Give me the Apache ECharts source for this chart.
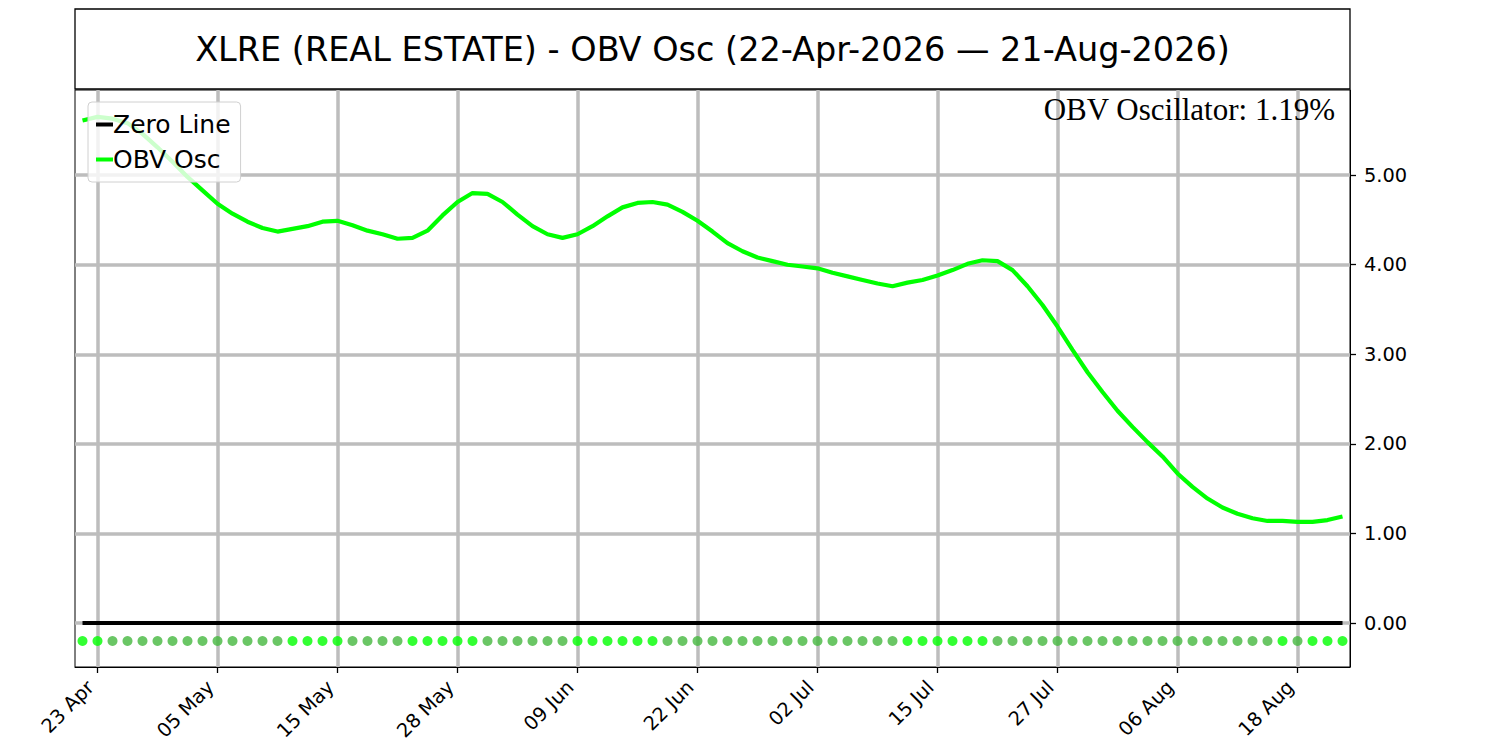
<!DOCTYPE html>
<html>
<head>
<meta charset="utf-8">
<title>XLRE OBV Osc</title>
<script src="https://cdn.jsdelivr.net/npm/echarts@6/dist/echarts.min.js"></script>
<style>
    html, body { margin: 0; padding: 0; background: #fff; }
    #chart { width: 1500px; height: 750px; }
</style>
</head>
<body>
<div id="chart"></div>
<script>
(function () {
    'use strict';

    // trading days, 22-Apr-2026 .. 21-Aug-2026
    var dates = [
        '22 Apr', '23 Apr', '24 Apr', '27 Apr', '28 Apr', '29 Apr', '30 Apr',
        '01 May', '04 May', '05 May', '06 May', '07 May', '08 May', '11 May', '12 May', '13 May', '14 May', '15 May',
        '18 May', '19 May', '20 May', '21 May', '22 May', '26 May', '27 May', '28 May', '29 May',
        '01 Jun', '02 Jun', '03 Jun', '04 Jun', '05 Jun', '08 Jun', '09 Jun', '10 Jun', '11 Jun', '12 Jun',
        '15 Jun', '16 Jun', '17 Jun', '18 Jun', '22 Jun', '23 Jun', '24 Jun', '25 Jun', '26 Jun', '29 Jun', '30 Jun',
        '01 Jul', '02 Jul', '06 Jul', '07 Jul', '08 Jul', '09 Jul', '10 Jul', '13 Jul', '14 Jul', '15 Jul',
        '16 Jul', '17 Jul', '20 Jul', '21 Jul', '22 Jul', '23 Jul', '24 Jul', '27 Jul', '28 Jul', '29 Jul', '30 Jul', '31 Jul',
        '03 Aug', '04 Aug', '05 Aug', '06 Aug', '07 Aug', '10 Aug', '11 Aug', '12 Aug', '13 Aug', '14 Aug',
        '17 Aug', '18 Aug', '19 Aug', '20 Aug', '21 Aug'
    ];

    var obvOsc = [
        5.61, 5.65, 5.63, 5.58, 5.46, 5.31, 5.15, 4.98, 4.83, 4.68,
        4.57, 4.48, 4.41, 4.37, 4.40, 4.43, 4.48, 4.49, 4.44, 4.38,
        4.34, 4.29, 4.30, 4.38, 4.55, 4.70, 4.80, 4.79, 4.70, 4.56,
        4.43, 4.34, 4.30, 4.34, 4.43, 4.54, 4.64, 4.69, 4.70, 4.67,
        4.59, 4.49, 4.37, 4.24, 4.15, 4.08, 4.04, 4.00, 3.98, 3.96,
        3.91, 3.87, 3.83, 3.79, 3.76, 3.80, 3.83, 3.88, 3.94, 4.01,
        4.05, 4.04, 3.94, 3.76, 3.55, 3.31, 3.05, 2.80, 2.58, 2.37,
        2.19, 2.02, 1.86, 1.67, 1.52, 1.39, 1.29, 1.22, 1.17, 1.14,
        1.14, 1.13, 1.13, 1.15, 1.19
    ];

    // 1 = bright dot (osc rising), 0 = dull dot
    var dotUp = [
        1, 1, 0, 0, 0, 0, 0, 0, 0, 0,
        0, 0, 0, 0, 1, 1, 1, 1, 0, 0,
        0, 0, 1, 1, 1, 1, 1, 0, 0, 0,
        0, 0, 0, 1, 1, 1, 1, 1, 1, 0,
        0, 0, 0, 0, 0, 0, 0, 0, 0, 0,
        0, 0, 0, 0, 0, 1, 1, 1, 1, 1,
        1, 0, 0, 0, 0, 0, 0, 0, 0, 0,
        0, 0, 0, 0, 0, 0, 0, 0, 0, 0,
        1, 0, 1, 1, 1
    ];

    var xTickIdx = [1, 9, 17, 25, 33, 41, 49, 57, 65, 73, 81];
    var yTicks = [0, 1, 2, 3, 4, 5];
    var zeroLevel = 0;
    var dotLevel = -0.2;

    var FONT = 'DejaVu Sans';
    var GRID_GRAY = '#bdbdbd';

    var lineData = obvOsc.map(function (v, i) { return [i, v]; });
    var zeroData = dates.map(function (d, i) { return [i, zeroLevel]; });
    var dotData = dotUp.map(function (u, i) {
        return {
            value: [i, dotLevel],
            itemStyle: { color: u ? '#00ff00' : '#45b83f' }
        };
    });

    var gridMarks = [];
    xTickIdx.forEach(function (i) { gridMarks.push({ xAxis: i }); });
    yTicks.forEach(function (v) { gridMarks.push({ yAxis: v }); });

    var myChart = echarts.init(document.getElementById('chart'), null, { renderer: 'svg' });

    var option = {
        animation: false,
        backgroundColor: '#fff',
        textStyle: { fontFamily: FONT },
        grid: {
            left: 75, right: 150, top: 90, bottom: 83,
            show: true, borderColor: '#000', borderWidth: 1, backgroundColor: 'transparent'
        },
        graphic: [
            {
                type: 'rect',
                shape: { x: 75, y: 9, width: 1275, height: 80 },
                style: { fill: 'none', stroke: '#000', lineWidth: 1.3 }
            },
            {
                type: 'text',
                x: 712.5, y: 49,
                style: {
                    text: 'XLRE (REAL ESTATE) - OBV Osc (22-Apr-2026 \u2014 21-Aug-2026)',
                    fontFamily: FONT, fontSize: 33.5, fill: '#000',
                    align: 'center', verticalAlign: 'middle'
                }
            },
            {
                type: 'text',
                x: 1335, y: 109, z: 10,
                style: {
                    text: 'OBV Oscillator: ' + obvOsc[obvOsc.length - 1].toFixed(2) + '%',
                    fontFamily: 'Liberation Serif', fontSize: 31, fill: '#000',
                    align: 'right', verticalAlign: 'middle'
                }
            }
        ],
        legend: {
            data: ['Zero Line', 'OBV Osc'],
            orient: 'vertical',
            left: 88, top: 102,
            z: 10,
            icon: 'rect',
            itemWidth: 17, itemHeight: 4, itemGap: 10,
            padding: [10, 10, 10, 8],
            backgroundColor: 'rgba(255,255,255,0.8)',
            borderColor: '#d0d0d0', borderWidth: 1, borderRadius: 4,
            textStyle: { fontFamily: FONT, fontSize: 25, color: '#000', padding: [0, 0, 0, -5] },
            selectedMode: false
        },
        xAxis: {
            type: 'value',
            min: -0.5, max: 84.5,
            splitLine: { show: false },
            axisLine: { show: true, onZero: false, lineStyle: { color: '#000', width: 1 } },
            axisTick: { show: true, length: 6, customValues: xTickIdx, lineStyle: { color: '#000', width: 1.3 } },
            axisLabel: {
                customValues: xTickIdx,
                rotate: 45,
                margin: 10,
                padding: [0, 10, 0, 0],
                fontFamily: FONT, fontSize: 19.4, color: '#000',
                formatter: function (v) { return dates[Math.round(v)]; }
            }
        },
        yAxis: {
            type: 'value',
            position: 'right',
            min: -0.49, max: 5.95,
            splitLine: { show: false },
            axisLine: { show: true, onZero: false, lineStyle: { color: '#000', width: 1 } },
            axisTick: { show: true, length: 6, customValues: yTicks, lineStyle: { color: '#000', width: 1.3 } },
            axisLabel: {
                customValues: yTicks,
                margin: 14,
                fontFamily: FONT, fontSize: 19.4, color: '#000',
                formatter: function (v) { return v.toFixed(2); }
            }
        },
        series: [
            {
                // grid lines only
                name: 'grid',
                type: 'line',
                data: zeroData,
                z: 1,
                showSymbol: false,
                lineStyle: { opacity: 0 },
                silent: true,
                markLine: {
                    z: 1,
                    silent: true,
                    symbol: ['none', 'none'],
                    label: { show: false },
                    lineStyle: { color: GRID_GRAY, width: 3.5, type: 'solid' },
                    emphasis: { disabled: true },
                    data: gridMarks
                }
            },
            {
                name: 'Zero Line',
                type: 'line',
                data: zeroData,
                z: 2,
                showSymbol: false,
                color: '#000',
                lineStyle: { color: '#000', width: 4 }
            },
            {
                name: 'OBV Osc',
                type: 'line',
                data: lineData,
                z: 2,
                showSymbol: false,
                color: '#00ff00',
                lineStyle: { color: '#00ff00', width: 4.2 }
            },
            {
                name: 'dots',
                type: 'scatter',
                data: dotData,
                z: 3,
                symbolSize: 10
            }
        ]
    };

    myChart.setOption(option);
})();
</script>
</body>
</html>
